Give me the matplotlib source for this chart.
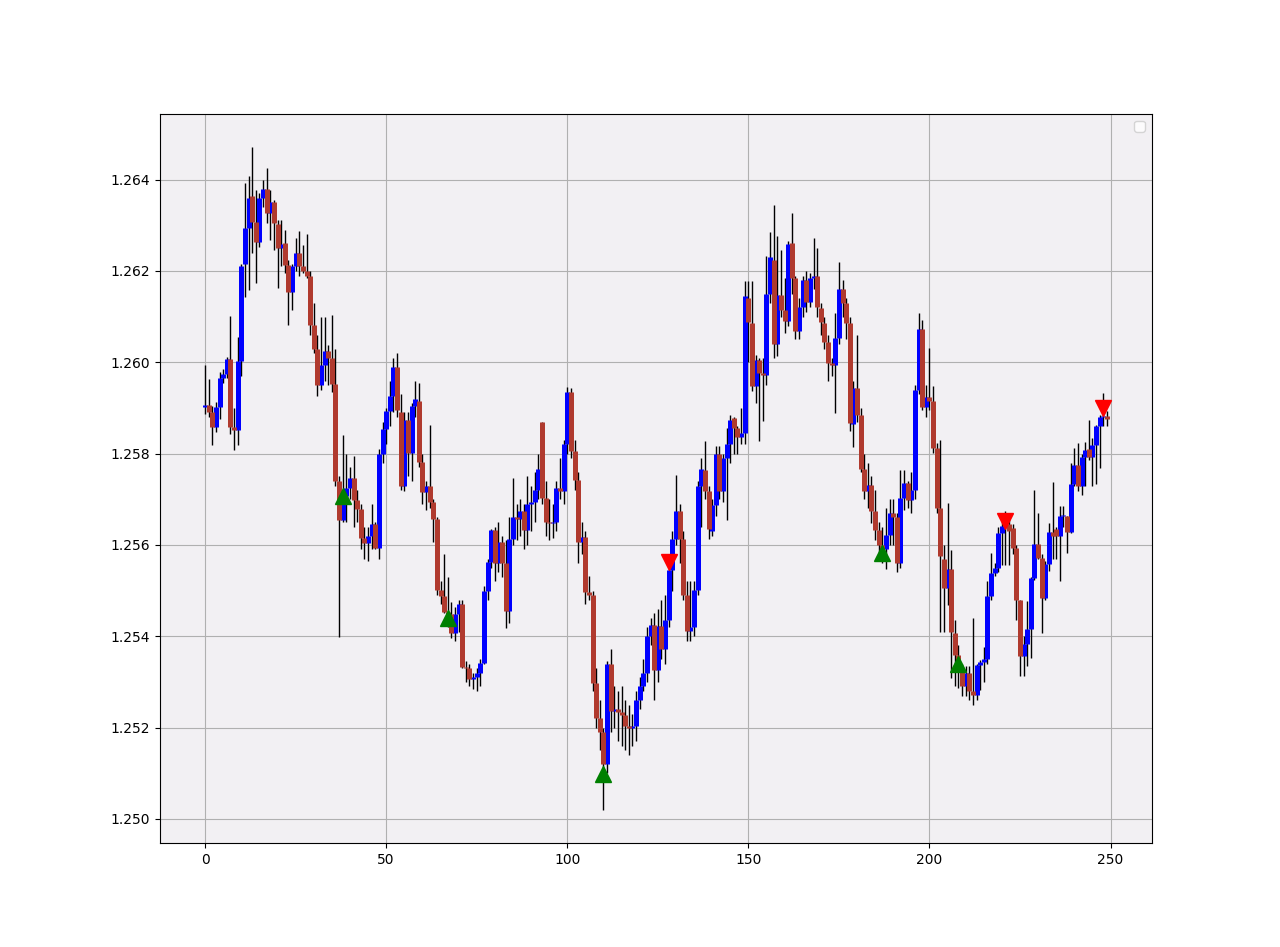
import numpy as np
import matplotlib
matplotlib.use('Agg')
import matplotlib.pyplot as plt

# OHLC values, one candle per index (0..249)
opens = [
    1.25902, 1.25907, 1.25892, 1.25859, 1.25903, 1.25966, 1.25975, 1.26008, 1.25859, 1.25851,
    1.26003, 1.26215, 1.26294, 1.26365, 1.26308, 1.26264, 1.26360, 1.26379, 1.26327, 1.26352,
    1.26303, 1.26250, 1.26261, 1.26213, 1.26155, 1.26210, 1.26239, 1.26211, 1.26200, 1.26190,
    1.26081, 1.26028, 1.25950, 1.25993, 1.26024, 1.26010, 1.25953, 1.25739, 1.25655, 1.25706,
    1.25725, 1.25746, 1.25699, 1.25678, 1.25615, 1.25605, 1.25620, 1.25646, 1.25593, 1.25800,
    1.25853, 1.25893, 1.25927, 1.25990, 1.25892, 1.25730, 1.25874, 1.25801, 1.25905, 1.25915,
    1.25782, 1.25715, 1.25728, 1.25693, 1.25657, 1.25501, 1.25488, 1.25454, 1.25448, 1.25407,
    1.25448, 1.25470, 1.25332, 1.25330, 1.25306, 1.25310, 1.25319, 1.25342, 1.25500, 1.25563,
    1.25633, 1.25561, 1.25607, 1.25560, 1.25455, 1.25613, 1.25661, 1.25657, 1.25675, 1.25632,
    1.25690, 1.25695, 1.25721, 1.25869, 1.25703, 1.25650, 1.25647, 1.25650, 1.25725, 1.25718,
    1.25821, 1.25935, 1.25805, 1.25743, 1.25606, 1.25618, 1.25496, 1.25491, 1.25298, 1.25220,
    1.25191, 1.25119, 1.25340, 1.25236, 1.25241, 1.25234, 1.25228, 1.25203, 1.25200, 1.25203,
    1.25261, 1.25290, 1.25320, 1.25400, 1.25424, 1.25325, 1.25422, 1.25372, 1.25435, 1.25546,
    1.25613, 1.25674, 1.25612, 1.25491, 1.25411, 1.25420, 1.25501, 1.25728, 1.25765, 1.25717,
    1.25630, 1.25688, 1.25798, 1.25719, 1.25790, 1.25820, 1.25877, 1.25856, 1.25836, 1.25845,
    1.26141, 1.26085, 1.25947, 1.26006, 1.25977, 1.25972, 1.26150, 1.26225, 1.26039, 1.26148,
    1.26115, 1.26091, 1.26261, 1.26185, 1.26069, 1.26121, 1.26180, 1.26133, 1.26185, 1.26190,
    1.26118, 1.26087, 1.26045, 1.25998, 1.25994, 1.26053, 1.26160, 1.26129, 1.26085, 1.25865,
    1.25943, 1.25885, 1.25766, 1.25717, 1.25731, 1.25675, 1.25633, 1.25600, 1.25590, 1.25622,
    1.25669, 1.25660, 1.25560, 1.25702, 1.25735, 1.25699, 1.25720, 1.25939, 1.26072, 1.25901,
    1.25925, 1.25915, 1.25812, 1.25680, 1.25569, 1.25505, 1.25547, 1.25408, 1.25359, 1.25330,
    1.25290, 1.25319, 1.25280, 1.25271, 1.25337, 1.25344, 1.25350, 1.25487, 1.25539, 1.25549,
    1.25626, 1.25641, 1.25645, 1.25637, 1.25593, 1.25479, 1.25356, 1.25382, 1.25415, 1.25528,
    1.25601, 1.25572, 1.25484, 1.25559, 1.25628, 1.25635, 1.25619, 1.25663, 1.25663, 1.25628,
    1.25734, 1.25776, 1.25728, 1.25793, 1.25809, 1.25793, 1.25818, 1.25860, 1.25880, 1.25883,
]
highs = [
    1.25993, 1.25964, 1.25905, 1.25912, 1.25979, 1.25985, 1.26012, 1.26102, 1.25900, 1.26056,
    1.26215, 1.26393, 1.26409, 1.26472, 1.26378, 1.26370, 1.26400, 1.26426, 1.26378, 1.26356,
    1.26312, 1.26312, 1.26290, 1.26225, 1.26215, 1.26272, 1.26288, 1.26256, 1.26280, 1.26200,
    1.26129, 1.26060, 1.26100, 1.26100, 1.26037, 1.26104, 1.26030, 1.25750, 1.25840, 1.25800,
    1.25770, 1.25795, 1.25720, 1.25690, 1.25640, 1.25640, 1.25690, 1.25650, 1.25810, 1.25870,
    1.25900, 1.25960, 1.26010, 1.26020, 1.25930, 1.25890, 1.25890, 1.25910, 1.25960, 1.25955,
    1.25800, 1.25740, 1.25863, 1.25700, 1.25660, 1.25520, 1.25580, 1.25530, 1.25475, 1.25465,
    1.25480, 1.25480, 1.25345, 1.25340, 1.25320, 1.25330, 1.25350, 1.25510, 1.25570, 1.25635,
    1.25640, 1.25650, 1.25620, 1.25610, 1.25660, 1.25747, 1.25690, 1.25700, 1.25690, 1.25750,
    1.25730, 1.25760, 1.25800, 1.25869, 1.25740, 1.25700, 1.25690, 1.25740, 1.25790, 1.25830,
    1.25945, 1.25944, 1.25830, 1.25760, 1.25650, 1.25630, 1.25531, 1.25500, 1.25330, 1.25260,
    1.25200, 1.25345, 1.25371, 1.25290, 1.25280, 1.25290, 1.25260, 1.25250, 1.25230, 1.25280,
    1.25310, 1.25350, 1.25420, 1.25440, 1.25450, 1.25460, 1.25480, 1.25490, 1.25560, 1.25630,
    1.25754, 1.25690, 1.25630, 1.25520, 1.25520, 1.25520, 1.25740, 1.25790, 1.25827, 1.25730,
    1.25700, 1.25816, 1.25816, 1.25800, 1.25856, 1.25885, 1.25880, 1.25860, 1.25900, 1.26177,
    1.26177, 1.26177, 1.26017, 1.26010, 1.26010, 1.26232, 1.26285, 1.26344, 1.26276, 1.26247,
    1.26185, 1.26265, 1.26327, 1.26190, 1.26140, 1.26190, 1.26200, 1.26195, 1.26272, 1.26250,
    1.26130, 1.26100, 1.26060, 1.26010, 1.26107, 1.26220, 1.26180, 1.26140, 1.26100, 1.25960,
    1.26060, 1.25900, 1.25800, 1.25780, 1.25750, 1.25720, 1.25650, 1.25640, 1.25680, 1.25700,
    1.25700, 1.25669, 1.25764, 1.25764, 1.25740, 1.25760, 1.25950, 1.26107, 1.26093, 1.25950,
    1.26031, 1.25947, 1.25823, 1.25830, 1.25600, 1.25691, 1.25589, 1.25436, 1.25380, 1.25340,
    1.25334, 1.25334, 1.25439, 1.25340, 1.25348, 1.25377, 1.25520, 1.25582, 1.25560, 1.25640,
    1.25660, 1.25674, 1.25660, 1.25645, 1.25600, 1.25480, 1.25400, 1.25477, 1.25530, 1.25721,
    1.25670, 1.25580, 1.25565, 1.25647, 1.25737, 1.25640, 1.25685, 1.25685, 1.25663, 1.25780,
    1.25812, 1.25823, 1.25800, 1.25825, 1.25874, 1.25834, 1.25862, 1.25885, 1.25933, 1.25893,
]
lows = [
    1.25887, 1.25880, 1.25818, 1.25847, 1.25876, 1.25955, 1.25965, 1.25843, 1.25807, 1.25818,
    1.25970, 1.26144, 1.26158, 1.26239, 1.26173, 1.26253, 1.26340, 1.26305, 1.26268, 1.26246,
    1.26162, 1.26210, 1.26195, 1.26081, 1.26114, 1.26200, 1.26190, 1.26195, 1.26185, 1.26060,
    1.26020, 1.25926, 1.25940, 1.25960, 1.25950, 1.25935, 1.25730, 1.25398, 1.25650, 1.25650,
    1.25700, 1.25640, 1.25650, 1.25590, 1.25570, 1.25565, 1.25590, 1.25590, 1.25568, 1.25780,
    1.25820, 1.25860, 1.25890, 1.25880, 1.25720, 1.25717, 1.25750, 1.25740, 1.25880, 1.25770,
    1.25690, 1.25677, 1.25680, 1.25607, 1.25490, 1.25470, 1.25450, 1.25420, 1.25395, 1.25390,
    1.25410, 1.25330, 1.25300, 1.25290, 1.25285, 1.25280, 1.25290, 1.25340, 1.25480, 1.25550,
    1.25520, 1.25540, 1.25530, 1.25418, 1.25429, 1.25600, 1.25610, 1.25620, 1.25590, 1.25600,
    1.25630, 1.25650, 1.25700, 1.25690, 1.25620, 1.25610, 1.25615, 1.25630, 1.25700, 1.25690,
    1.25800, 1.25790, 1.25720, 1.25560, 1.25580, 1.25470, 1.25480, 1.25280, 1.25200, 1.25150,
    1.25020, 1.25100, 1.25190, 1.25200, 1.25170, 1.25160, 1.25150, 1.25140, 1.25160, 1.25170,
    1.25240, 1.25280, 1.25300, 1.25380, 1.25260, 1.25300, 1.25350, 1.25340, 1.25420, 1.25500,
    1.25600, 1.25560, 1.25480, 1.25390, 1.25390, 1.25400, 1.25490, 1.25640, 1.25700, 1.25612,
    1.25620, 1.25663, 1.25700, 1.25695, 1.25655, 1.25780, 1.25800, 1.25800, 1.25820, 1.25820,
    1.26000, 1.25936, 1.25911, 1.25827, 1.25871, 1.25950, 1.26130, 1.26010, 1.26013, 1.26100,
    1.26064, 1.26080, 1.26150, 1.26050, 1.26050, 1.26100, 1.26110, 1.26120, 1.26160, 1.26100,
    1.26060, 1.26030, 1.25960, 1.25970, 1.25888, 1.26040, 1.26100, 1.26050, 1.25850, 1.25815,
    1.25870, 1.25760, 1.25700, 1.25680, 1.25647, 1.25610, 1.25570, 1.25560, 1.25547, 1.25600,
    1.25600, 1.25540, 1.25550, 1.25677, 1.25680, 1.25670, 1.25700, 1.25930, 1.25896, 1.25880,
    1.25896, 1.25801, 1.25669, 1.25410, 1.25410, 1.25469, 1.25308, 1.25290, 1.25286, 1.25268,
    1.25268, 1.25260, 1.25250, 1.25260, 1.25282, 1.25300, 1.25340, 1.25480, 1.25531, 1.25540,
    1.25557, 1.25557, 1.25557, 1.25580, 1.25436, 1.25312, 1.25312, 1.25334, 1.25353, 1.25524,
    1.25568, 1.25407, 1.25480, 1.25542, 1.25568, 1.25568, 1.25520, 1.25640, 1.25582, 1.25626,
    1.25728, 1.25718, 1.25710, 1.25728, 1.25787, 1.25730, 1.25734, 1.25769, 1.25860, 1.25860,
]
closes = [
    1.25907, 1.25892, 1.25859, 1.25903, 1.25966, 1.25975, 1.26008, 1.25859, 1.25852, 1.26003,
    1.26211, 1.26294, 1.26360, 1.26308, 1.26264, 1.26360, 1.26379, 1.26327, 1.26352, 1.26306,
    1.26250, 1.26259, 1.26213, 1.26155, 1.26210, 1.26239, 1.26211, 1.26200, 1.26190, 1.26081,
    1.26028, 1.25950, 1.25993, 1.26024, 1.26010, 1.25953, 1.25739, 1.25655, 1.25706, 1.25725,
    1.25746, 1.25699, 1.25678, 1.25615, 1.25605, 1.25620, 1.25646, 1.25593, 1.25800, 1.25853,
    1.25893, 1.25927, 1.25990, 1.25896, 1.25730, 1.25874, 1.25801, 1.25905, 1.25919, 1.25782,
    1.25715, 1.25728, 1.25693, 1.25657, 1.25501, 1.25488, 1.25454, 1.25448, 1.25407, 1.25448,
    1.25470, 1.25332, 1.25330, 1.25306, 1.25310, 1.25319, 1.25342, 1.25500, 1.25563, 1.25633,
    1.25561, 1.25607, 1.25560, 1.25455, 1.25613, 1.25661, 1.25657, 1.25675, 1.25632, 1.25690,
    1.25695, 1.25721, 1.25766, 1.25703, 1.25650, 1.25647, 1.25650, 1.25725, 1.25718, 1.25821,
    1.25935, 1.25805, 1.25743, 1.25606, 1.25618, 1.25496, 1.25491, 1.25298, 1.25220, 1.25191,
    1.25119, 1.25340, 1.25236, 1.25241, 1.25234, 1.25228, 1.25203, 1.25200, 1.25203, 1.25261,
    1.25290, 1.25320, 1.25400, 1.25424, 1.25325, 1.25422, 1.25372, 1.25435, 1.25546, 1.25613,
    1.25674, 1.25612, 1.25491, 1.25411, 1.25420, 1.25501, 1.25728, 1.25767, 1.25717, 1.25634,
    1.25688, 1.25798, 1.25719, 1.25790, 1.25820, 1.25874, 1.25856, 1.25836, 1.25845, 1.26145,
    1.26088, 1.25947, 1.26004, 1.25977, 1.25972, 1.26150, 1.26231, 1.26039, 1.26148, 1.26115,
    1.26091, 1.26259, 1.26185, 1.26069, 1.26121, 1.26180, 1.26133, 1.26185, 1.26190, 1.26122,
    1.26089, 1.26045, 1.25998, 1.25994, 1.26053, 1.26160, 1.26129, 1.26085, 1.25868, 1.25943,
    1.25885, 1.25766, 1.25717, 1.25731, 1.25675, 1.25633, 1.25600, 1.25590, 1.25622, 1.25669,
    1.25660, 1.25560, 1.25702, 1.25735, 1.25699, 1.25720, 1.25939, 1.26072, 1.25901, 1.25925,
    1.25915, 1.25812, 1.25680, 1.25576, 1.25505, 1.25547, 1.25410, 1.25359, 1.25330, 1.25290,
    1.25319, 1.25280, 1.25271, 1.25337, 1.25344, 1.25350, 1.25487, 1.25539, 1.25549, 1.25626,
    1.25641, 1.25645, 1.25630, 1.25593, 1.25479, 1.25356, 1.25382, 1.25415, 1.25528, 1.25603,
    1.25572, 1.25484, 1.25559, 1.25628, 1.25620, 1.25619, 1.25663, 1.25665, 1.25628, 1.25734,
    1.25774, 1.25728, 1.25793, 1.25807, 1.25793, 1.25818, 1.25860, 1.25880, 1.25883, 1.25875,
]

# signal markers
buy_idx = [38, 67, 110, 187, 208]
buy_price = [1.25708, 1.25440, 1.25098, 1.25582, 1.25340]
sell_idx = [128, 221, 248]
sell_price = [1.25563, 1.25653, 1.25900]

o = np.array(opens)
h = np.array(highs)
l = np.array(lows)
c = np.array(closes)
x = np.arange(len(c))
up = c >= o

fig, ax = plt.subplots(figsize=(12.8, 9.47), dpi=100)
ax.set_facecolor('#f2f0f3')

# wicks, then bodies on top
ax.vlines(x, l, h, color='black', linewidth=1, zorder=2)
ax.vlines(x[up], o[up], c[up], color='blue', linewidth=3.6, zorder=3)
ax.vlines(x[~up], o[~up], c[~up], color='#b03a2e', linewidth=3.6, zorder=3)

ax.plot(buy_idx, buy_price, '^', color='green', markersize=11, zorder=4)
ax.plot(sell_idx, sell_price, 'v', color='red', markersize=11, zorder=4)

ax.grid(True)
ax.legend(loc='upper right')

fig.savefig('out.png')
